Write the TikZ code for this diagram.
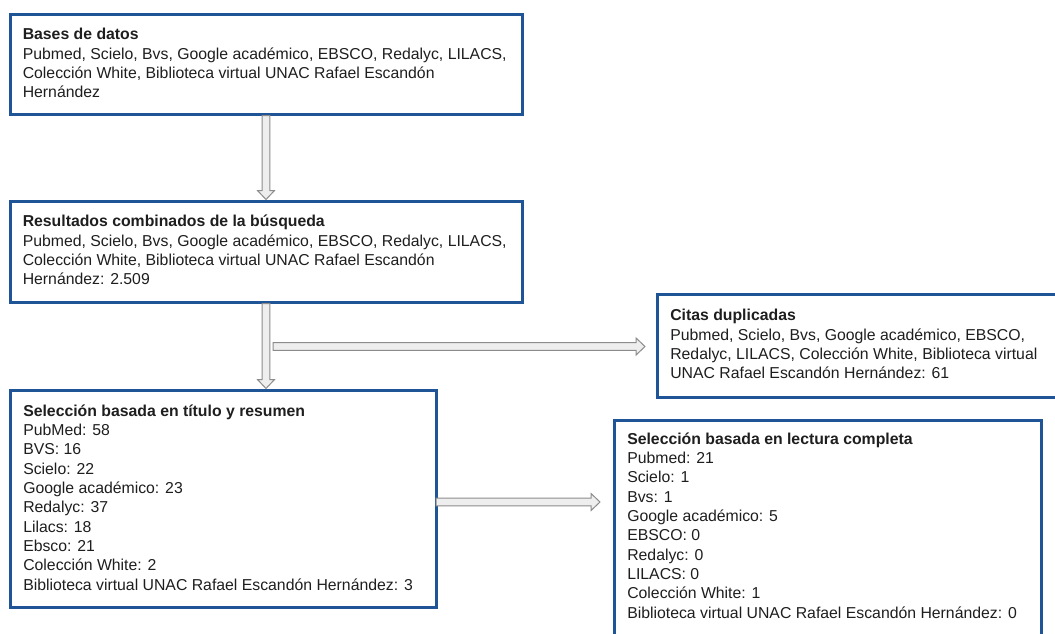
\documentclass[tikz,border=0pt]{standalone}
\usepackage{fontspec}
\setmainfont{Liberation Sans}
\usetikzlibrary{calc,fit}
\definecolor{azulcaja}{RGB}{31,85,151}
\definecolor{grisborde}{RGB}{140,140,140}
\definecolor{grisrelleno}{RGB}{238,238,238}
\definecolor{tinta}{RGB}{30,30,30}
\tikzset{
  caja/.style={draw=azulcaja, line width=2.25pt, inner sep=0pt},
  texto/.style={anchor=north west, inner sep=0pt, align=left, text=tinta,
    font=\fontsize{11.85pt}{14.5pt}\selectfont},
  flecha/.style={draw=grisborde, fill=grisrelleno, line width=0.75pt,
    to path={
      ($(\tikztotarget)!6.75pt!(\tikztostart)$) coordinate (fh)
      ($(\tikztostart)!2.9pt!-90:(\tikztotarget)$)
      -- ($(fh)!2.9pt!-90:(\tikztotarget)$)
      -- ($(fh)!6.4pt!-90:(\tikztotarget)$)
      -- (\tikztotarget)
      -- ($(fh)!6.4pt!90:(\tikztotarget)$)
      -- ($(fh)!2.9pt!90:(\tikztotarget)$)
      -- ($(\tikztostart)!2.9pt!90:(\tikztotarget)$) -- cycle}}
}
\newcommand{\tope}{\rule{0pt}{12pt}}

\begin{document}
\begin{tikzpicture}[x=0.75pt,y=-0.75pt]
  \useasboundingbox (0,0) rectangle (1055,633);
  \clip (0,0) rectangle (1055,633);
  % cajas
  \node[caja, fit={(10,14) (522,114)}] (bases) {};
  \node[caja, fit={(10,201) (522,302)}] (resultados) {};
  \node[caja, fit={(657,294) (1064,397)}] (citas) {};
  \node[caja, fit={(10,390) (436,607)}] (titulo) {};
  \node[caja, fit={(614,420) (1041,648)}] (lectura) {};
  % textos
  \node[texto] (basestxt) at (22.5,23.5) {\tope\textbf{Bases de datos}\\
    Pubmed, Scielo, Bvs, Google académico, EBSCO, Redalyc, LILACS,\\
    Colección White, Biblioteca virtual UNAC Rafael Escandón\\
    Hernández};
  \node[texto] (resultadostxt) at (22.5,210.5) {\tope\textbf{Resultados combinados de la búsqueda}\\
    Pubmed, Scielo, Bvs, Google académico, EBSCO, Redalyc, LILACS,\\
    Colección White, Biblioteca virtual UNAC Rafael Escandón\\
    Hernández: 2.509};
  \node[texto] (citastxt) at (670,304.7) {\tope\textbf{Citas duplicadas}\\
    Pubmed, Scielo, Bvs, Google académico, EBSCO,\\
    Redalyc, LILACS, Colección White, Biblioteca virtual\\
    UNAC Rafael Escandón Hernández: 61};
  \node[texto] (titulotxt) at (23,400) {\tope\textbf{Selección basada en título y resumen}\\
    PubMed: 58\\ BVS: 16\\ Scielo: 22\\ Google académico: 23\\ Redalyc: 37\\
    Lilacs: 18\\ Ebsco: 21\\ Colección White: 2\\
    Biblioteca virtual UNAC Rafael Escandón Hernández: 3};
  \node[texto] (lecturatxt) at (627,428) {\tope\textbf{Selección basada en lectura completa}\\
    Pubmed: 21\\ Scielo: 1\\ Bvs: 1\\ Google académico: 5\\ EBSCO: 0\\
    Redalyc: 0\\ LILACS: 0\\ Colección White: 1\\
    Biblioteca virtual UNAC Rafael Escandón Hernández: 0};
  % flechas
  \coordinate (bajada) at (resultados.south |- titulo.north);
  \coordinate (rama) at (273,346.5);
  \coordinate (citasin) at (645,346.5);
  \coordinate (salida) at (436,502);
  \coordinate (lecturain) at (600,502);
  \draw[flecha] (bases.south) to (resultados.north);
  \draw[flecha] (resultados.south) to (bajada);
  \draw[flecha] (rama) to (citasin);
  \draw[flecha] (salida) to (lecturain);
\end{tikzpicture}
\end{document}
